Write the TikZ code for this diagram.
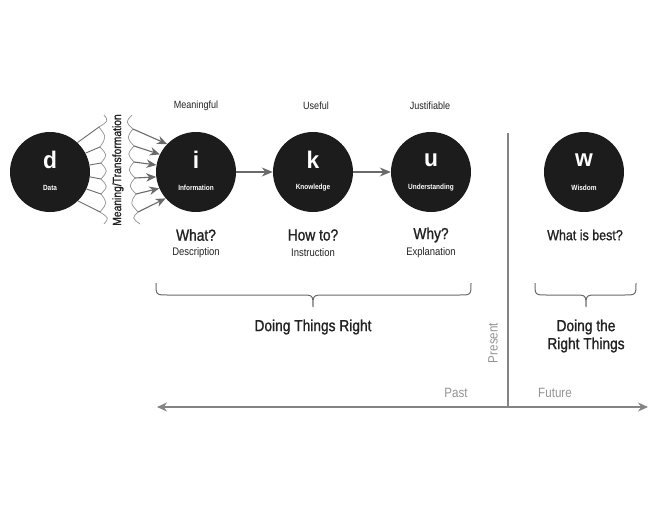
\documentclass[tikz,border=0pt]{standalone}
\usepackage{fontspec}
\setmainfont{Liberation Sans}[FakeStretch=0.86]
\newfontfamily\medfont{Liberation Sans}[FakeStretch=0.86,FakeBold=1.2]
\newfontfamily\heavyfont{Liberation Sans Bold}[FakeStretch=0.95]
\usetikzlibrary{arrows.meta,calc}
\definecolor{ink}{HTML}{222222}
\definecolor{disc}{HTML}{1C1C1C}
\definecolor{arrowgray}{HTML}{6A6A6A}
\definecolor{softgray}{HTML}{939393}
\begin{document}
\begin{tikzpicture}[x=1pt,y=-1pt,
  dot/.style={circle,fill=disc,minimum size=80pt,inner sep=0pt},
  bigletter/.style={text=white,font=\fontsize{24}{24}\heavyfont},
  smallword/.style={text=white,font=\fontsize{7.5}{8}\selectfont\bfseries},
  toplabel/.style={text=ink,font=\fontsize{10.5}{12}\selectfont},
  question/.style={text=ink,font=\fontsize{16}{18}\medfont},
  subq/.style={text=ink,font=\fontsize{11}{12}\selectfont},
  doing/.style={text=ink,font=\fontsize{16}{18}\medfont,align=center},
  timetext/.style={text=softgray,font=\fontsize{13.5}{15}\selectfont},
  arr/.style={draw=arrowgray,line width=1.2pt,-{Stealth[length=11pt,width=9pt]}},
  fanarr/.style={draw=arrowgray,line width=1.1pt,-{Stealth[length=10pt,width=8.5pt]}},
  fanline/.style={draw=arrowgray,line width=0.9pt},
  wave/.style={draw=arrowgray!75,line width=0.7pt},
  bracestyle/.style={draw=arrowgray,line width=1pt},
  timeline/.style={draw=softgray!90!black,line width=1.4pt},
]
\useasboundingbox (0,0) rectangle (659,509);

% circles
\node[dot] (d) at (50,172) {};
\node[dot] (i) at (196,172) {};
\node[dot] (k) at (313,172) {};
\node[dot] (u) at (431,172) {};
\node[dot] (w) at (584,172) {};

\node[bigletter] (dl) at (50,160) {d};
\node[bigletter] (il) at (196,160) {i};
\node[bigletter] (kl) at (313,160) {k};
\node[bigletter] (ul) at (431,160) {u};
\node[bigletter] (wl) at (584,160) {w};

\node[smallword] (dw) at (50,188) {Data};
\node[smallword] (iw) at (196,188) {Information};
\node[smallword] (kw) at (313,188) {Knowledge};
\node[smallword] (uw) at (431,188) {Understanding};
\node[smallword] (ww) at (584,188) {Wisdom};

% arrows between circles
\draw[arr] (i) -- (k);
\draw[arr] (k) -- (u);

% left wavy
\coordinate (L0) at (104,115);
\coordinate (L1) at (99,127);
\coordinate (L2) at (100,147);
\coordinate (L3) at (101,163);
\coordinate (L4) at (101,179);
\coordinate (L5) at (101,194);
\coordinate (L6) at (100,212);
\coordinate (L7) at (104,224);
% right wavy
\coordinate (R0) at (132,115);
\coordinate (R1) at (133,129);
\coordinate (R2) at (134,146);
\coordinate (R3) at (134,162);
\coordinate (R4) at (135,178);
\coordinate (R5) at (136,194);
\coordinate (R6) at (138,212);
\coordinate (R7) at (140,224);

\foreach \a/\b in {0/1,1/2,2/3,3/4,4/5,5/6,6/7}{
  \draw[wave] (L\a) .. controls ($(L\a)!0.5!(L\b)+(7,0)$) .. (L\b);
  \draw[wave] (R\a) .. controls ($(R\a)!0.5!(R\b)+(-7,0)$) .. (R\b);
}

\draw[fanline] (d.47) -- (L1);
\draw[fanline] (d.28) -- (L2);
\draw[fanline] (d.10) -- (L3);
\draw[fanline] (d.-7) -- (L4);
\draw[fanline] (d.-25) -- (L5);
\draw[fanline] (d.-46) -- (L6);

\draw[fanarr] (R1) -- (i.136);
\draw[fanarr] (R2) -- (i.154);
\draw[fanarr] (R3) -- (i.170);
\draw[fanarr] (R4) -- (i.187);
\draw[fanarr] (R5) -- (i.204);
\draw[fanarr] (R6) -- (i.221);

\node[rotate=90,text=ink,font=\fontsize{12}{12}\medfont] (mt) at (118,170) {Meaning/Transformation};

% labels
\node[toplabel] (m1) at (196,106) {Meaningful};
\node[toplabel] (m2) at (316,106) {Useful};
\node[toplabel] (m3) at (430,106) {Justifiable};

\node[question] (q1) at (196,235) {What?};
\node[question] (q2) at (313,235) {How to?};
\node[question] (q3) at (431,235) {Why?};
\node[text=ink,font=\fontsize{14.5}{17}\medfont] (q4) at (585,235) {What is best?};

\node[subq] (s1) at (196,253) {Description};
\node[subq] (s2) at (313,253) {Instruction};
\node[subq] (s3) at (431,253) {Explanation};

% braces
\draw[bracestyle] (156,283) .. controls (156,295) .. (168,295) -- (301,295)
  .. controls (313,295) .. (313,307) .. controls (313,295) .. (325,295)
  -- (459,295) .. controls (471,295) .. (471,283);
\draw[bracestyle] (535,283) .. controls (535,295) .. (547,295) -- (574,295)
  .. controls (586,295) .. (586,307) .. controls (586,295) .. (598,295)
  -- (624,295) .. controls (636,295) .. (636,283);

\node[doing] (dr) at (313,327) {Doing Things Right};
\node[doing] (drt) at (586,336) {Doing the\\Right Things};

% timeline
\coordinate (ptop) at (508,133);
\coordinate (pbot) at (508,407);
\draw[timeline,line width=1.2pt] (ptop) -- (pbot);
\coordinate (tl) at (157,407);
\coordinate (tr) at (648,407);
\draw[timeline,{Stealth[length=10pt,width=9pt]}-{Stealth[length=10pt,width=9pt]}] (tl) -- (tr);

\node[timetext,rotate=90] (present) at (493,343) {Present};
\node[timetext] (past) at (456,393) {Past};
\node[timetext] (future) at (555,393) {Future};
\end{tikzpicture}
\end{document}
